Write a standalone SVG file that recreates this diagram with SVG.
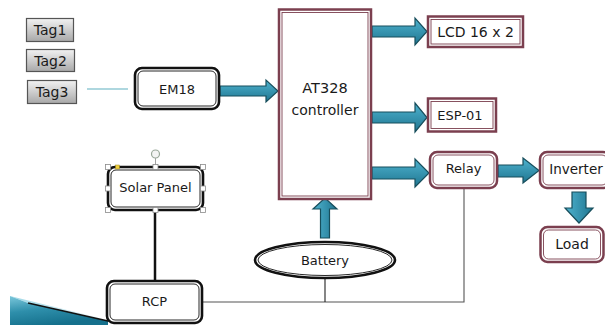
<svg xmlns="http://www.w3.org/2000/svg" width="605" height="325" viewBox="0 0 605 325">
<defs>
<linearGradient id="tagG" x1="0" y1="0" x2="0" y2="1"><stop offset="0" stop-color="#f2f2f2"/><stop offset="1" stop-color="#a8a8a8"/></linearGradient>
<linearGradient id="arrG" x1="0" y1="0" x2="0" y2="1"><stop offset="0" stop-color="#4fb3cf"/><stop offset="1" stop-color="#1f7590"/></linearGradient>
<linearGradient id="arrV" x1="0" y1="0" x2="1" y2="0"><stop offset="0" stop-color="#4fb3cf"/><stop offset="1" stop-color="#1f7590"/></linearGradient>
<linearGradient id="decoG" x1="0" y1="0" x2="0.4" y2="1"><stop offset="0" stop-color="#7cc8dc"/><stop offset="0.5" stop-color="#2e8fab"/><stop offset="1" stop-color="#15708c"/></linearGradient>
<linearGradient id="decoL" x1="0" y1="0" x2="1" y2="0"><stop offset="0" stop-color="#9fd8e6"/><stop offset="1" stop-color="#eaf7fa"/></linearGradient>
<style>
text{font-family:"DejaVu Sans","Liberation Sans",sans-serif;fill:#1a1a1a;text-anchor:middle;dominant-baseline:central}
.tag{fill:url(#tagG);stroke:#555;stroke-width:1.2}
.mo{fill:#fff;stroke:#7b3f4f;stroke-width:2.5}
.mi{fill:none;stroke:#7b3f4f;stroke-width:0.9}
.bo{fill:#fff;stroke:#111;stroke-width:2.6}
.bi{fill:none;stroke:#111;stroke-width:0.9}
.ah{fill:url(#arrG);stroke:#174e5c;stroke-width:1.2;stroke-linejoin:miter}
.av{fill:url(#arrV);stroke:#174e5c;stroke-width:1.2}
.hd{fill:#fff;stroke:#8a8a8a;stroke-width:0.8}
</style>
</defs>
<rect width="605" height="325" fill="#fff"/>

<g id="decoration">
<polygon points="10,296 108,320 28,303" fill="url(#decoL)"/>
<polygon points="10,296 28,303 108,321 108,325 10,325" fill="url(#decoG)"/>
<line x1="28" y1="303" x2="108" y2="321" stroke="#111" stroke-width="1.5"/>
</g>

<g id="connectors">
<line x1="87" y1="89" x2="128" y2="89" stroke="#5fb0c0" stroke-width="1.2"/>
<line x1="155" y1="210" x2="155" y2="281" stroke="#111" stroke-width="2.5"/>
<polyline points="202,302 464,302 464,189" fill="none" stroke="#555" stroke-width="1.1"/>
<line x1="325" y1="278" x2="325" y2="302" stroke="#222" stroke-width="1.1"/>
<polygon class="ah" points="220,86 266,86 266,80 278,91 266,102 266,96 220,96"/>
<polygon class="ah" points="372,26 415,26 415,18 427,31.5 415,45 415,37 372,37"/>
<polygon class="ah" points="372,112 415,112 415,103 427,117.5 415,132 415,123 372,123"/>
<polygon class="ah" points="372,167 415,167 415,159 429,173 415,187 415,179 372,179"/>
<polygon class="ah" points="498,165 523,165 523,158 539,170.5 523,183 523,177 498,177"/>
<polygon class="av" points="572,192 586,192 586,208 593,208 579,223 565,208 572,208"/>
<polygon class="av" points="320.5,238 329.5,238 329.5,209 337,209 325,198 313,209 320.5,209"/>
</g>

<g id="tag1"><rect class="tag" x="26.5" y="18.5" width="47" height="23"/><text x="50" y="30" font-size="14">Tag1</text></g>
<g id="tag2"><rect class="tag" x="26.5" y="49.5" width="48" height="22"/><text x="50.5" y="60.5" font-size="14">Tag2</text></g>
<g id="tag3"><rect class="tag" x="27.5" y="80.5" width="49" height="23"/><text x="52" y="92" font-size="14">Tag3</text></g>

<g id="em18"><rect class="bo" x="135" y="68" width="84" height="41" rx="7"/><rect class="bi" x="138" y="71" width="78" height="35" rx="5"/><text x="177" y="89.5" font-size="13">EM18</text></g>

<g id="controller"><rect class="mo" x="279" y="9.5" width="92" height="189.5"/><rect class="mi" x="282" y="12.5" width="86" height="183.5"/><text x="325" y="88" font-size="14.5">AT328</text><text x="325" y="110" font-size="14">controller</text></g>

<g id="lcd"><rect class="mo" x="428" y="16.5" width="95" height="30.5"/><rect class="mi" x="431" y="19.5" width="89" height="24.5"/><text x="475.5" y="31.5" font-size="14">LCD 16 x 2</text></g>

<g id="esp"><rect class="mo" x="428" y="98.5" width="68" height="33"/><rect class="mi" x="431" y="101.5" width="62" height="27"/><text x="460" y="115.5" font-size="13">ESP-01</text></g>

<g id="relay"><rect class="mo" x="430" y="152" width="67" height="36" rx="7"/><rect class="mi" x="433" y="155" width="61" height="30" rx="5"/><text x="463.5" y="168.5" font-size="13">Relay</text></g>

<g id="inverter"><rect class="mo" x="540" y="152" width="70" height="36" rx="7"/><rect class="mi" x="543" y="155" width="64" height="30" rx="5"/><text x="576" y="168.5" font-size="13.5">Inverter</text></g>

<g id="load"><rect class="mo" x="540.5" y="227" width="63" height="35" rx="7"/><rect class="mi" x="543.5" y="230" width="57" height="29" rx="5"/><text x="572" y="243.5" font-size="14">Load</text></g>

<g id="battery"><ellipse class="bo" cx="325" cy="260" rx="70" ry="18"/><ellipse class="bi" cx="325" cy="260" rx="67" ry="15.5"/><text x="325" y="260" font-size="13">Battery</text></g>

<g id="solar"><rect class="bo" x="108" y="167" width="95" height="43" rx="7"/><rect class="bi" x="111" y="170" width="89" height="37" rx="5"/><text x="155.5" y="187" font-size="13">Solar Panel</text>
<line x1="155.5" y1="158" x2="155.5" y2="167" stroke="#8a8a8a" stroke-width="0.8"/>
<circle cx="155.5" cy="154" r="4" fill="#f4f4f4" stroke="#9aa89a" stroke-width="1.2"/>
<rect class="hd" x="105.5" y="164.5" width="5" height="5"/><rect class="hd" x="153" y="164.5" width="5" height="5"/><rect class="hd" x="200.5" y="164.5" width="5" height="5"/>
<rect class="hd" x="105.5" y="186" width="5" height="5"/><rect class="hd" x="200.5" y="186" width="5" height="5"/>
<rect class="hd" x="105.5" y="207.5" width="5" height="5"/><rect class="hd" x="153" y="207.5" width="5" height="5"/><rect class="hd" x="200.5" y="207.5" width="5" height="5"/>
<rect x="115.5" y="165" width="4" height="4" fill="#f0d040" stroke="#a08a20" stroke-width="0.5"/>
</g>

<g id="rcp"><rect class="bo" x="107" y="281" width="95" height="42" rx="7"/><rect class="bi" x="110" y="284" width="89" height="36" rx="5"/><text x="154.5" y="301" font-size="13">RCP</text></g>
</svg>
